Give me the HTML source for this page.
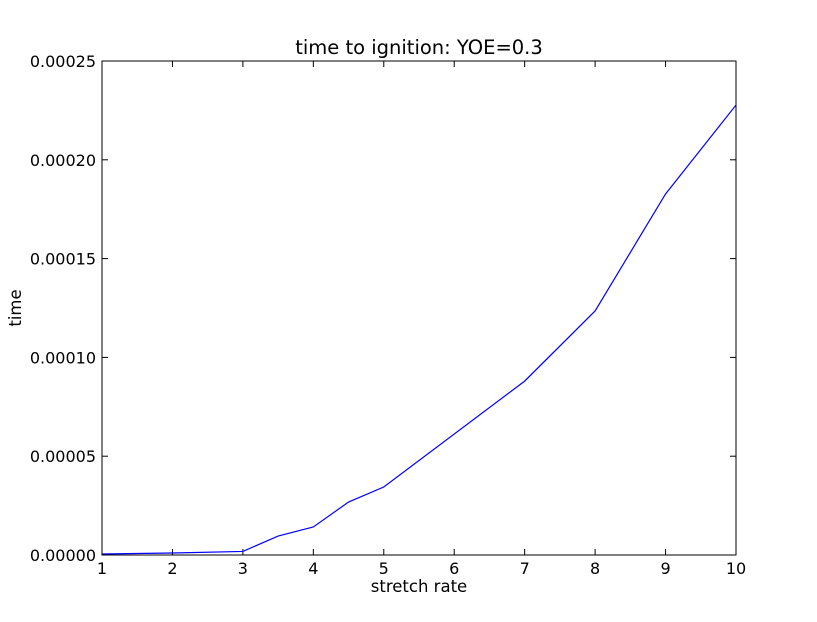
<!DOCTYPE html>
<html><head><meta charset="utf-8"><style>
body{margin:0;background:#fff;}
svg text{font-family:"DejaVu Sans","Liberation Sans",sans-serif;fill:#000;}
</style></head><body>
<svg id="chart" width="817" height="617" xmlns="http://www.w3.org/2000/svg">
<rect width="817" height="617" fill="#fff"/>
<text x="419" y="54" font-size="19.5" text-anchor="middle">time to ignition: YOE=0.3</text>
<text x="419" y="592" font-size="16.5" text-anchor="middle">stretch rate</text>
<text x="21" y="308" font-size="16.5" text-anchor="middle" transform="rotate(-90 21 308)">time</text>
<g id="ticks"></g>
<polyline id="line" fill="none" stroke="#0000ff" stroke-width="1.2"/>
<rect x="102" y="61" width="634" height="494" fill="none" stroke="#000" stroke-width="1"/>
</svg>
<script>
const xs = [1,2,3,3.5,4,4.5,5,7,8,9,10];
const ys = [0.0000005,0.000001,0.0000018,0.0000096,0.0000142,0.0000268,0.0000344,0.000088,0.0001235,0.0001827,0.0002277];
const xTicks = [1,2,3,4,5,6,7,8,9,10];
const yTicks = [0,0.00005,0.0001,0.00015,0.0002,0.00025];
const yTickLabels = ["0.00000","0.00005","0.00010","0.00015","0.00020","0.00025"];
const L=102,R=736,T=61,B=555;
const sx=v=>L+(v-1)/9*(R-L);
const sy=v=>B-v/0.00025*(B-T);
const NS="http://www.w3.org/2000/svg";
const g=document.getElementById('ticks');
function line(x1,y1,x2,y2){const l=document.createElementNS(NS,'line');l.setAttribute('x1',x1);l.setAttribute('y1',y1);l.setAttribute('x2',x2);l.setAttribute('y2',y2);l.setAttribute('stroke','#000');


g.appendChild(l);}
function text(x,y,s,anchor){const t=document.createElementNS(NS,'text');t.setAttribute('x',x);t.setAttribute('y',y);t.setAttribute('font-size','16');t.setAttribute('text-anchor',anchor);t.textContent=s;


g.appendChild(t);}
xTicks.forEach(v=>{const x=sx(v);line(x,B,x,B-6);line(x,T,x,T+6);text(x,B+19,String(v),'middle');});
yTicks.forEach((v,i)=>{const y=sy(v);line(L,y,L+6,y);line(R,y,R-6,y);text(L-6,y+6,yTickLabels[i],'end');});
document.getElementById('line').setAttribute('points',xs.map((x,i)=>sx(x)+','+sy(ys[i])).join(' '));
</script>
</body></html>
